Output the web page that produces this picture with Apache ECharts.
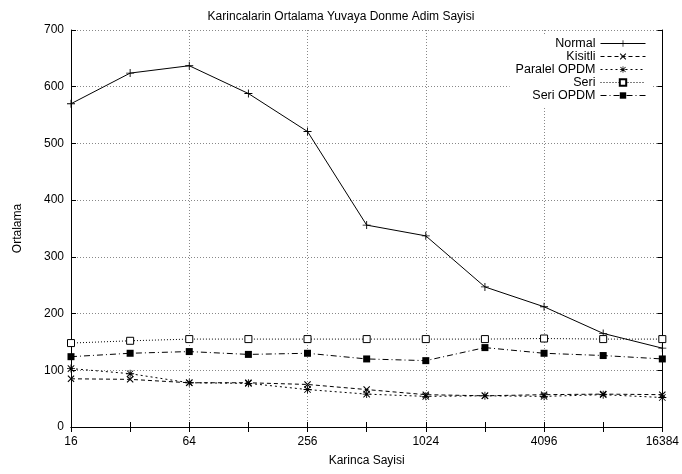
<!DOCTYPE html>
<html><head><meta charset="utf-8">
<script src="https://cdn.jsdelivr.net/npm/echarts@6/dist/echarts.min.js"></script>
<style>html,body{margin:0;padding:0;background:#fff}#c{width:682px;height:474px}</style>
</head><body><div id="c"></div>
<script>
const antCounts = [16, 32, 64, 128, 256, 512, 1024, 2048, 4096, 8192, 16384];
const normal = [570, 624, 637, 588, 521, 356, 337, 247, 212, 165, 139];
const kisitli = [85, 84, 78, 78, 75, 66, 57, 55, 57, 58, 57];
const paralelOPDM = [103, 94, 78, 77, 66, 58, 54, 55, 54, 57, 52];
const seri = [148, 152, 155, 155, 155, 155, 155, 155, 156, 155, 155];
const seriOPDM = [124, 130, 133, 128, 130, 120, 117, 140, 130, 126, 120];
const xTickLabels = [16, 64, 256, 1024, 4096, 16384];
const seriesNames = ['Normal', 'Kisitli', 'Paralel OPDM', 'Seri', 'Seri OPDM'];

const FONT = 'Liberation Sans';
const plusSym = 'path://M4,0h1v9h-1z M0,4h9v1h-9z';
const crossSym = 'path://M0,1L1,0L9,8L8,9Z M8,0L9,1L1,9L0,8Z';
const starSym = 'path://M4,0h1v9h-1z M0,4h9v1h-9z M0.5,1.2L1.2,0.5L8.5,7.8L7.8,8.5Z M7.8,0.5L8.5,1.2L1.2,8.5L0.5,7.8Z';

function pairs(vals) { return antCounts.map((x, i) => [x, vals[i]]); }

const chart = echarts.init(document.getElementById('c'), null, {renderer: 'canvas'});
const lineBase = (name, vals, symbol, size, dash, extra) => Object.assign({
  name, type: 'line', data: pairs(vals), xAxisIndex: 0, yAxisIndex: 0,
  symbol, symbolSize: size, showSymbol: true,
  lineStyle: {color: '#000', width: 1, type: dash},
  itemStyle: {color: '#000'},
  emphasis: {disabled: true}, animation: false
}, extra || {});

chart.setOption({
  animation: false,
  backgroundColor: '#fff',
  title: {
    text: 'Karincalarin Ortalama Yuvaya Donme Adim Sayisi',
    left: 'center', top: 6,
    textStyle: {fontFamily: FONT, fontSize: 12, fontWeight: 'normal', color: '#000'}
  },
  grid: {left: 71, right: 15, top: 30, bottom: 47, containLabel: false},
  legend: {
    data: seriesNames,
    orient: 'vertical', align: 'right',
    right: 30, top: 34,
    itemWidth: 45, itemHeight: 8, itemGap: 0,
    backgroundColor: '#fff',
    padding: [3, 6, 4, 6],
    lineStyle: {width: 1},
    textStyle: {fontFamily: FONT, fontSize: 12.5, color: '#000', lineHeight: 11.5},
    selectedMode: false
  },
  xAxis: [
    {
      type: 'log', logBase: 2, min: 16, max: 16384, interval: 1,
      position: 'bottom',
      name: 'Karinca Sayisi', nameLocation: 'middle', nameGap: 28,
      nameTextStyle: {fontFamily: FONT, fontSize: 12, color: '#000'},
      axisLine: {show: true, lineStyle: {color: '#000', width: 1}},
      axisTick: {show: true, inside: true, length: 5, lineStyle: {color: '#000'}},
      axisLabel: {
        fontFamily: FONT, fontSize: 12, color: '#000', margin: 9,
        formatter: v => xTickLabels.indexOf(Math.round(v)) >= 0 ? String(Math.round(v)) : ''
      },
      splitLine: {show: false}
    },
    {
      type: 'log', logBase: 2, min: 16, max: 16384, interval: 1,
      position: 'top',
      axisLine: {show: true, lineStyle: {color: '#000', width: 1}},
      axisTick: {show: true, inside: true, length: 5, lineStyle: {color: '#000'}},
      axisLabel: {show: false},
      splitLine: {show: false}
    },
    {
      type: 'log', logBase: 4, min: 16, max: 16384, interval: 1,
      position: 'bottom', offset: 0,
      axisLine: {show: false}, axisTick: {show: false}, axisLabel: {show: false},
      splitLine: {show: true, lineStyle: {color: '#888', width: 1, type: [1, 2]}}
    }
  ],
  yAxis: [
    {
      type: 'value', min: 0, max: 700, interval: 100, position: 'left',
      name: 'Ortalama', nameLocation: 'middle', nameGap: 47, nameRotate: 90,
      nameTextStyle: {fontFamily: FONT, fontSize: 12, color: '#000'},
      axisLine: {show: true, lineStyle: {color: '#000', width: 1}},
      axisTick: {show: true, inside: true, length: 5, lineStyle: {color: '#000'}},
      axisLabel: {fontFamily: FONT, fontSize: 12, color: '#000', margin: 7},
      splitLine: {show: true, lineStyle: {color: '#888', width: 1, type: [1, 2]}}
    },
    {
      type: 'value', min: 0, max: 700, interval: 100, position: 'right',
      axisLine: {show: true, lineStyle: {color: '#000', width: 1}},
      axisTick: {show: true, inside: true, length: 5, lineStyle: {color: '#000'}},
      axisLabel: {show: false},
      splitLine: {show: false}
    }
  ],
  series: [
    lineBase('Normal', normal, plusSym, 8, 'solid'),
    lineBase('Kisitli', kisitli, crossSym, 7, [4, 3]),
    lineBase('Paralel OPDM', paralelOPDM, starSym, 8, [2, 3]),
    lineBase('Seri', seri, 'rect', 7, [1, 2], {itemStyle: {color: '#fff', borderColor: '#000', borderWidth: 1}}),
    lineBase('Seri OPDM', seriOPDM, 'rect', 7, [6, 3, 1, 3])
  ]
});
</script>
</body></html>
